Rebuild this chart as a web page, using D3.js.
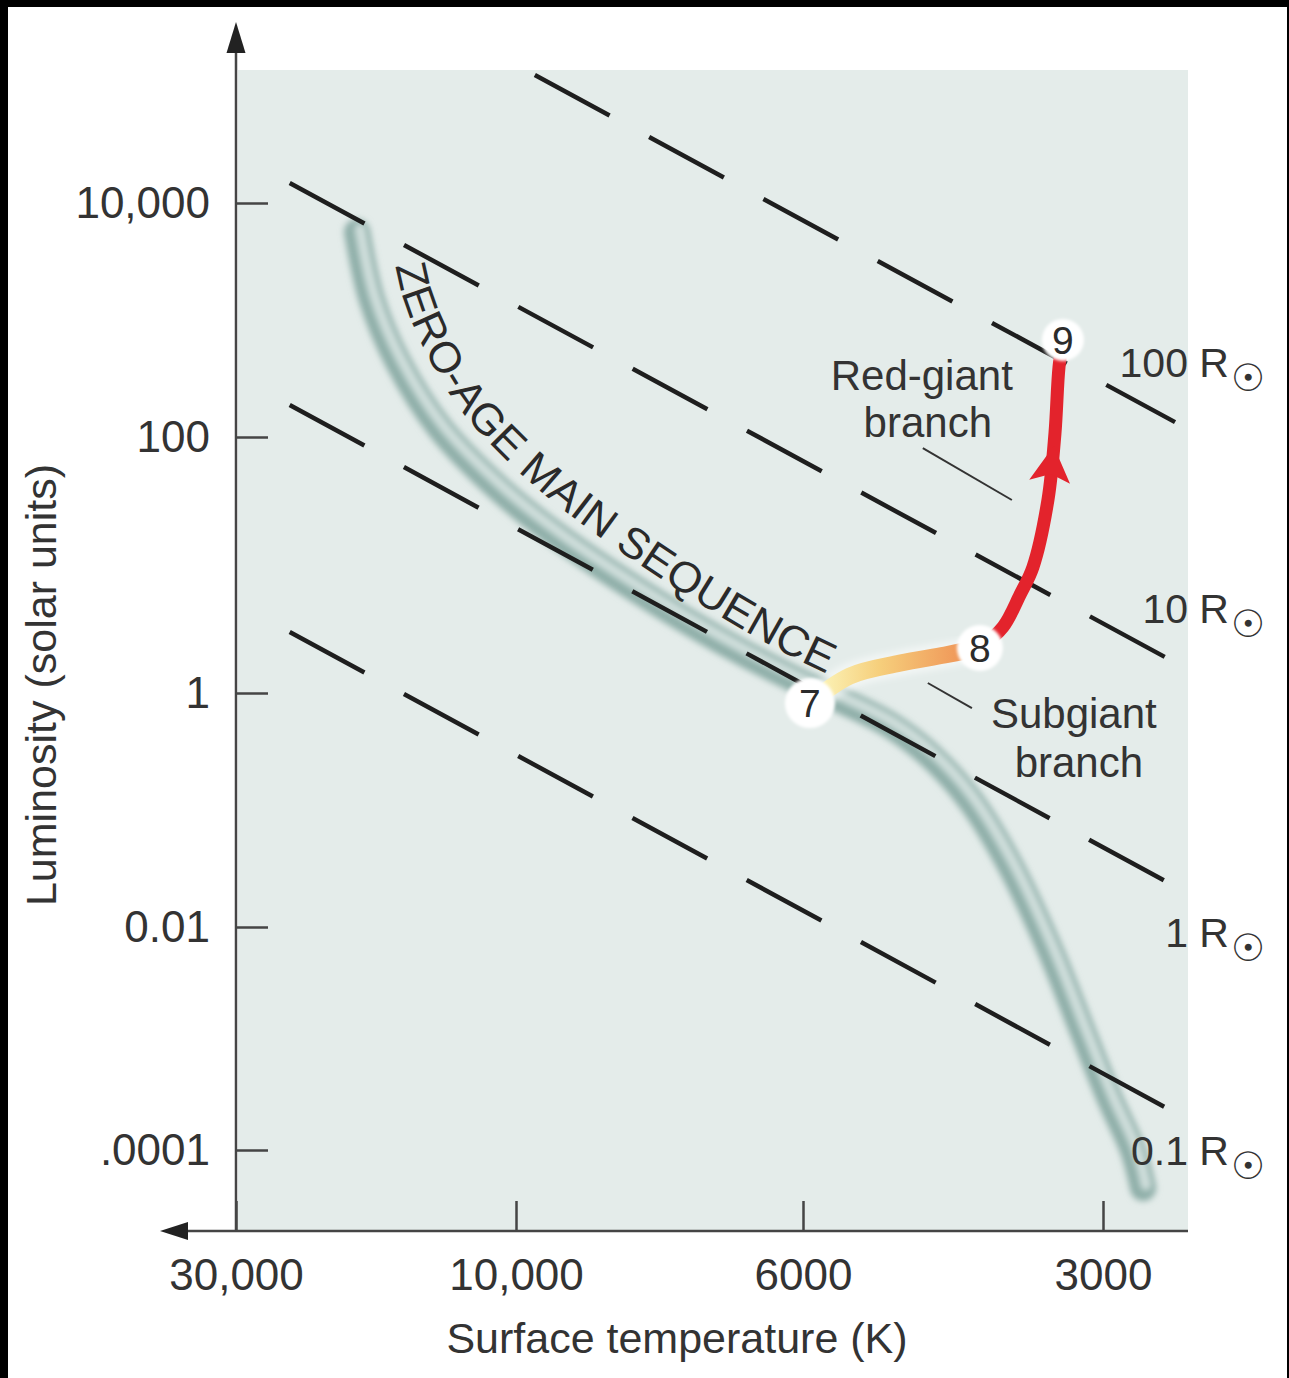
<!DOCTYPE html>
<html><head><meta charset="utf-8">
<script src="https://cdn.jsdelivr.net/npm/d3@7"></script>
<style>
html,body{margin:0;padding:0;background:#000;}
svg{display:block;}
text{font-family:"Liberation Sans", Arial, Helvetica, sans-serif;}
</style></head><body>
<svg id="chart" width="1289" height="1378"></svg>
<script>
// ---------------- data ----------------
const tempTicks = [30000, 10000, 6000, 3000];
const tempTickLabels = ["30,000", "10,000", "6000", "3000"];
const lumTicks = [1e4, 1e2, 1, 1e-2, 1e-4];
const lumTickLabels = ["10,000", "100", "1", "0.01", ".0001"];

// lines of constant radius (dashed)
const radiusNames = ["100 R", "10 R", "1 R", "0.1 R"];
const radiusStartT = [9670, 24300, 24300, 24300];
const radiusStartL = [124000, 14800, 188, 3.0];
const radiusEndT = [2540, 2590, 2590, 2590];
const radiusEndL = [134, 1.88, 0.0243, 2.38e-4];
const radiusLabelT = [2063, 2063, 2063, 2063];
const radiusLabelL = [326, 3.52, 0.00662, 7.33e-5];

// zero-age main sequence
const msTemp = [18660, 17600, 15890, 13480, 10650, 9250, 8020, 6960, 6140, 5450, 4910, 4480, 4080, 3720, 3390, 3140, 2950, 2800, 2735];
const msLum  = [5650, 1480, 437, 119, 38.6, 16.3, 6.15, 2.59, 1.33, 0.838, 0.533, 0.295, 0.122, 0.0339, 0.00622, 0.00112, 2.81e-4, 1.0e-4, 4.56e-5];

// subgiant branch (7 -> 8)
const subTemp = [5905, 5383, 4797, 4323, 3987];
const subLum  = [0.82, 1.36, 1.71, 1.98, 2.25];

// red-giant branch (8 -> 9)
const rgTemp = [3987, 3780, 3635, 3527, 3407, 3352, 3321, 3291];
const rgLum  = [2.25, 3.28, 5.83, 9.64, 32.2, 108, 396, 675];
const arrowT = [3362, 3352];
const arrowL = [85, 108];

// evolutionary stages
const stageNames = ["7", "8", "9"];
const stageTemp = [5905, 3987, 3291];
const stageLum  = [0.82, 2.25, 675];

// annotations
const noteLines = [["Red-giant", "branch"], ["Subgiant", "branch"]];
const noteT = [[4560, 4497], [3209, 3172]];
const noteL = [[252, 100], [0.502, 0.191]];
const leaderT = [[4549, 3703], [4497, 4061]];
const leaderL = [[82.0, 32.2], [1.197, 0.744]];

// ---------------- drawing ----------------
const W = 1289, H = 1378;
const svg = d3.select("#chart");
svg.append("rect").attr("width", W).attr("height", H).attr("fill", "#000");
svg.append("rect").attr("x", 8).attr("y", 7).attr("width", W - 10).attr("height", H - 7).attr("fill", "#fff");

const x = d3.scaleLog().domain(tempTicks).range([236, 516, 803, 1103]);
const y = d3.scaleLog().domain(lumTicks).range([203, 437, 693, 927, 1150]);
const plot = {left: 238, right: 1188, top: 70, bottom: 1231};

const defs = svg.append("defs");
const fMS = defs.append("filter").attr("id", "blurMS").attr("x", "-20%").attr("y", "-20%").attr("width", "140%").attr("height", "140%");
fMS.append("feGaussianBlur").attr("stdDeviation", 3);
const fHi = defs.append("filter").attr("id", "blurHi").attr("x", "-20%").attr("y", "-20%").attr("width", "140%").attr("height", "140%");
fHi.append("feGaussianBlur").attr("stdDeviation", 3);
const fSoft = defs.append("filter").attr("id", "blurSoft").attr("x", "-50%").attr("y", "-50%").attr("width", "200%").attr("height", "200%");
fSoft.append("feGaussianBlur").attr("stdDeviation", 1.6);

svg.append("rect").attr("x", plot.left).attr("y", plot.top)
  .attr("width", plot.right - plot.left).attr("height", plot.bottom - plot.top)
  .attr("fill", "#e4ecea");

const line = d3.line().x(d => x(d.T)).y(d => y(d.L)).curve(d3.curveCatmullRom.alpha(0.5));

// main sequence band
const msData = msTemp.map((t, i) => ({T: t, L: msLum[i]}));
const msG = svg.append("g");
const msPath = msG.append("path").attr("d", line(msData))
  .attr("fill", "none").attr("stroke", "#8fafa9").attr("stroke-width", 26)
  .attr("stroke-linecap", "round").attr("filter", "url(#blurMS)");
msG.append("path").attr("d", line(msData))
  .attr("fill", "none").attr("stroke", "#cfdedb").attr("stroke-width", 11)
  .attr("stroke-linecap", "round").attr("filter", "url(#blurHi)")
  .attr("transform", "translate(3,-3)");

// dashed constant-radius lines
const radiusData = radiusNames.map((n, i) => ({
  name: n, a: {T: radiusStartT[i], L: radiusStartL[i]}, b: {T: radiusEndT[i], L: radiusEndL[i]},
  lab: {T: radiusLabelT[i], L: radiusLabelL[i]}
}));
svg.append("g").selectAll("line").data(radiusData).join("line")
  .attr("x1", d => x(d.a.T)).attr("y1", d => y(d.a.L))
  .attr("x2", d => x(d.b.T)).attr("y2", d => y(d.b.L))
  .attr("stroke", "#1e1e1e").attr("stroke-width", 4.5).attr("stroke-dasharray", "85,45");

// text along main sequence (offset path)
const node = msPath.node();
const total = node.getTotalLength();
const samp = [];
for (let s = 0; s <= total; s += 3) samp.push(node.getPointAtLength(s));
const offPts = samp.map((p, i) => {
  const a = samp[Math.max(i - 2, 0)], b = samp[Math.min(i + 2, samp.length - 1)];
  const dx = b.x - a.x, dy = b.y - a.y, len = Math.hypot(dx, dy) || 1;
  const s = i * 3;
  const off = 32 - 14 * Math.min(s / 700, 1);
  return [p.x + dy / len * off, p.y - dx / len * off];
});
defs.append("path").attr("id", "zamsPath").attr("d", d3.line()(offPts));
svg.append("text").attr("font-size", 43).attr("fill", "#2a2a2a")
  .append("textPath").attr("href", "#zamsPath").attr("startOffset", 40)
  .attr("textLength", 614).attr("lengthAdjust", "spacingAndGlyphs")
  .text("ZERO-AGE MAIN SEQUENCE");

// subgiant branch
const subData = subTemp.map((t, i) => ({T: t, L: subLum[i]}));
const grad = defs.append("linearGradient").attr("id", "subGrad").attr("gradientUnits", "userSpaceOnUse")
  .attr("x1", x(subTemp[0]) + 15).attr("x2", x(subTemp[subTemp.length - 1])).attr("y1", 0).attr("y2", 0);
grad.append("stop").attr("offset", 0).attr("stop-color", "#fbf0b2");
grad.append("stop").attr("offset", 0.35).attr("stop-color", "#f6cf7c");
grad.append("stop").attr("offset", 1).attr("stop-color", "#ee8a50");
svg.append("path").attr("d", line(subData)).attr("fill", "none")
  .attr("stroke", "#ffffff").attr("stroke-opacity", 0.5).attr("stroke-width", 26).attr("filter", "url(#blurMS)");
svg.append("path").attr("d", line(subData)).attr("fill", "none")
  .attr("stroke", "url(#subGrad)").attr("stroke-width", 17);

// red-giant branch
const rgData = rgTemp.map((t, i) => ({T: t, L: rgLum[i]}));
svg.append("path").attr("d", line(rgData)).attr("fill", "none")
  .attr("stroke", "#e3232c").attr("stroke-width", 13).attr("stroke-linejoin", "round");
const ax0 = x(arrowT[0]), ay0 = y(arrowL[0]), ax1 = x(arrowT[1]), ay1 = y(arrowL[1]);
const ang = Math.atan2(ay1 - ay0, ax1 - ax0) * 180 / Math.PI + 90;
svg.append("path").attr("d", "M0,0 L20,36 L0,28 L-21,36 Z").attr("fill", "#e3232c")
  .attr("transform", `translate(${ax0},${ay0}) rotate(${ang})`);

// leader lines
svg.append("g").selectAll("line").data(leaderT).join("line")
  .attr("x1", (d, i) => x(d[0])).attr("y1", (d, i) => y(leaderL[i][0]))
  .attr("x2", (d, i) => x(d[1])).attr("y2", (d, i) => y(leaderL[i][1]))
  .attr("stroke", "#333").attr("stroke-width", 2);

// stage circles
const stageData = stageNames.map((n, i) => ({n, T: stageTemp[i], L: stageLum[i]}));
const radii = [25, 23, 21];
const sg = svg.append("g").selectAll("g").data(stageData).join("g")
  .attr("transform", d => `translate(${x(d.T)},${y(d.L)})`);
sg.append("circle").attr("r", (d, i) => radii[i]).attr("fill", "#fff").attr("filter", "url(#blurSoft)");
sg.append("text").attr("text-anchor", "middle").attr("dy", "0.36em").attr("font-size", 39)
  .attr("fill", "#2b2b2b").text(d => d.n);

// annotation texts
noteLines.forEach((lines, k) => {
  lines.forEach((t, j) => {
    svg.append("text").attr("x", x(noteT[k][j])).attr("y", y(noteL[k][j]))
      .attr("text-anchor", "middle").attr("font-size", 42).attr("fill", "#333").text(t);
  });
});

// radius labels
const rl = svg.append("g").selectAll("text").data(radiusData).join("text")
  .attr("x", d => x(d.lab.T)).attr("y", d => y(d.lab.L))
  .attr("text-anchor", "end").attr("font-size", 41).attr("fill", "#333");
rl.append("tspan").text(d => d.name);
rl.append("tspan").attr("font-family", "DejaVu Sans").attr("font-size", 38).attr("dx", 2).attr("dy", 14).text("\u2609");

// axes
const axColor = "#454545";
const yAxis = d3.axisLeft(y).tickValues(lumTicks)
  .tickFormat(d => lumTickLabels[lumTicks.indexOf(d)])
  .tickSizeInner(-32).tickSizeOuter(0).tickPadding(26);
const gy = svg.append("g").attr("transform", "translate(236,0)").call(yAxis);
const xAxis = d3.axisBottom(x).tickValues(tempTicks)
  .tickFormat(d => tempTickLabels[tempTicks.indexOf(d)])
  .tickSizeInner(-30).tickSizeOuter(0).tickPadding(28);
const gx = svg.append("g").attr("transform", `translate(0,${plot.bottom})`).call(xAxis);
[gx, gy].forEach(g => {
  g.select(".domain").remove();
  g.selectAll(".tick line").attr("stroke", axColor).attr("stroke-width", 2.5);
  g.selectAll(".tick text").attr("font-size", 44).attr("fill", "#333")
    .attr("font-family", "Liberation Sans, Arial, sans-serif");
});

svg.append("line").attr("x1", 236).attr("y1", plot.bottom + 1).attr("x2", 236).attr("y2", 40)
  .attr("stroke", axColor).attr("stroke-width", 2.5);
svg.append("path").attr("d", "M236,22 L245.5,53 L226.5,53 Z").attr("fill", "#222");
svg.append("line").attr("x1", plot.right).attr("y1", plot.bottom).attr("x2", 178).attr("y2", plot.bottom)
  .attr("stroke", axColor).attr("stroke-width", 2.5);
svg.append("path").attr("d", `M160,${plot.bottom} L188,${plot.bottom - 9} L188,${plot.bottom + 9} Z`).attr("fill", "#222");

// axis titles
svg.append("text").attr("transform", "translate(56,685) rotate(-90)")
  .attr("text-anchor", "middle").attr("font-size", 43).attr("fill", "#333")
  .text("Luminosity (solar units)");
svg.append("text").attr("x", 677).attr("y", 1353)
  .attr("text-anchor", "middle").attr("font-size", 43).attr("fill", "#333")
  .text("Surface temperature (K)");
</script>
</body></html>
